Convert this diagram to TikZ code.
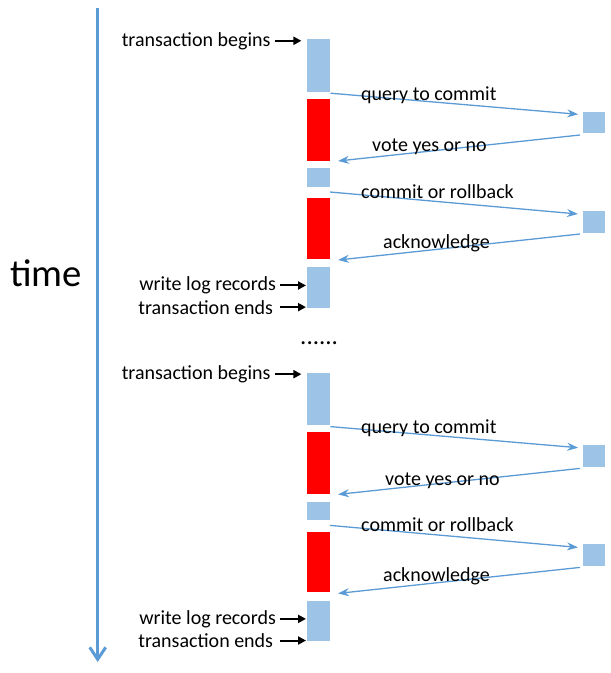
\documentclass[tikz,border=0pt]{standalone}
\usepackage{fontspec}
\setmainfont{Carlito}
\usetikzlibrary{arrows.meta,calc}
\definecolor{barblue}{HTML}{9DC3E6}
\definecolor{linkblue}{HTML}{5B9BD5}
\definecolor{lockred}{HTML}{FF0000}
\begin{document}
\begin{tikzpicture}[x=1pt,y=-1pt,
  bar/.style={rectangle,draw=none,inner sep=0pt,outer sep=0pt,minimum width=23pt,fill=#1},
  peer/.style={rectangle,draw=none,inner sep=0pt,outer sep=0pt,minimum width=22.3pt,fill=barblue},
  lbl/.style={anchor=base west,inner sep=0pt,font=\fontsize{20}{24}\selectfont},
  rlbl/.style={anchor=base east,inner sep=0pt,font=\fontsize{20}{24}\selectfont},
  msg/.style={draw=linkblue,line width=1.3pt,-{Stealth[length=11pt,width=8pt]}},
  pointer/.style={draw=black,line width=2pt,-{Triangle[length=8pt,width=8pt]}}
]
\useasboundingbox (0,0) rectangle (611,673);

% time axis
\coordinate (tstart) at (97.7,8);
\coordinate (tend) at (97.7,662);
\draw[linkblue,line width=3.3pt,-{Straight Barb[length=12pt,width=16pt,line width=3pt]}] (tstart) -- (tend);
\node[anchor=base west,inner sep=0pt,font=\fontsize{38.7}{44}\selectfont] (timelbl) at (10,286.7) {time};

% one transaction per pass
\foreach \dy/\g/\vx in {0/a/372, 333.4/b/385} {
  \begin{scope}[shift={(0,\dy)}]
    % coordinator timeline
    \node[bar=barblue,minimum height=52.4pt] (\g b1) at (318.5,65.5) {};
    \node[bar=lockred,minimum height=61.7pt] (\g red1) at (318.5,129.85) {};
    \node[bar=barblue,minimum height=18.4pt] (\g b2) at (318.5,177.5) {};
    \node[bar=lockred,minimum height=60.7pt] (\g red2) at (318.5,228.65) {};
    \node[bar=barblue,minimum height=40.4pt] (\g b3) at (318.5,287.5) {};
    % participant
    \node[peer,minimum height=21.6pt] (\g r1) at (593.85,122.5) {};
    \node[peer,minimum height=22pt] (\g r2) at (593.85,221.7) {};

    % messages
    \draw[msg] ([shift={(0.5,1.5)}]\g b1.south east) -- ([shift={(-4.5,2.6)}]\g r1.north west);
    \draw[msg] ([shift={(-2.7,1.7)}]\g r1.south west) -- ([shift={(8,0.3)}]\g red1.south east);
    \draw[msg] ([shift={(0,5.3)}]\g b2.south east) -- ([shift={(-4.7,3.3)}]\g r2.north west);
    \draw[msg] ([shift={(-2.7,1.3)}]\g r2.south west) -- ([shift={(8,1)}]\g red2.south east);
    \node[lbl] (\g q) at (361,100) {query to commit};
    \node[lbl] (\g v) at (\vx,151.7) {vote yes or no};
    \node[lbl] (\g c) at (361,198.3) {commit or rollback};
    \node[lbl] (\g k) at (383,248.3) {acknowledge};

    % events on the coordinator
    \node[rlbl] (\g tb) at (270.7,46) {transaction begins};
    \node[rlbl] (\g wl) at (276,290.7) {write log records};
    \node[rlbl] (\g te) at (273.3,314) {transaction ends};
    \draw[pointer] ([xshift=4.3pt]\g tb.east) -- ($(\g tb.east -| \g b1.west)+(-5.6,0)$);
    \draw[pointer] ([xshift=4pt]\g wl.east) -- ($(\g wl.east -| \g b3.west)+(-1,0)$);
    \draw[pointer] ([xshift=6.7pt]\g te.east) -- ($(\g te.east -| \g b3.west)+(-1,0)$);
  \end{scope}
}

\node[anchor=base west,inner sep=0pt,font=\fontsize{25}{30}\selectfont] (gap) at (300,344) {......};
\end{tikzpicture}
\end{document}
